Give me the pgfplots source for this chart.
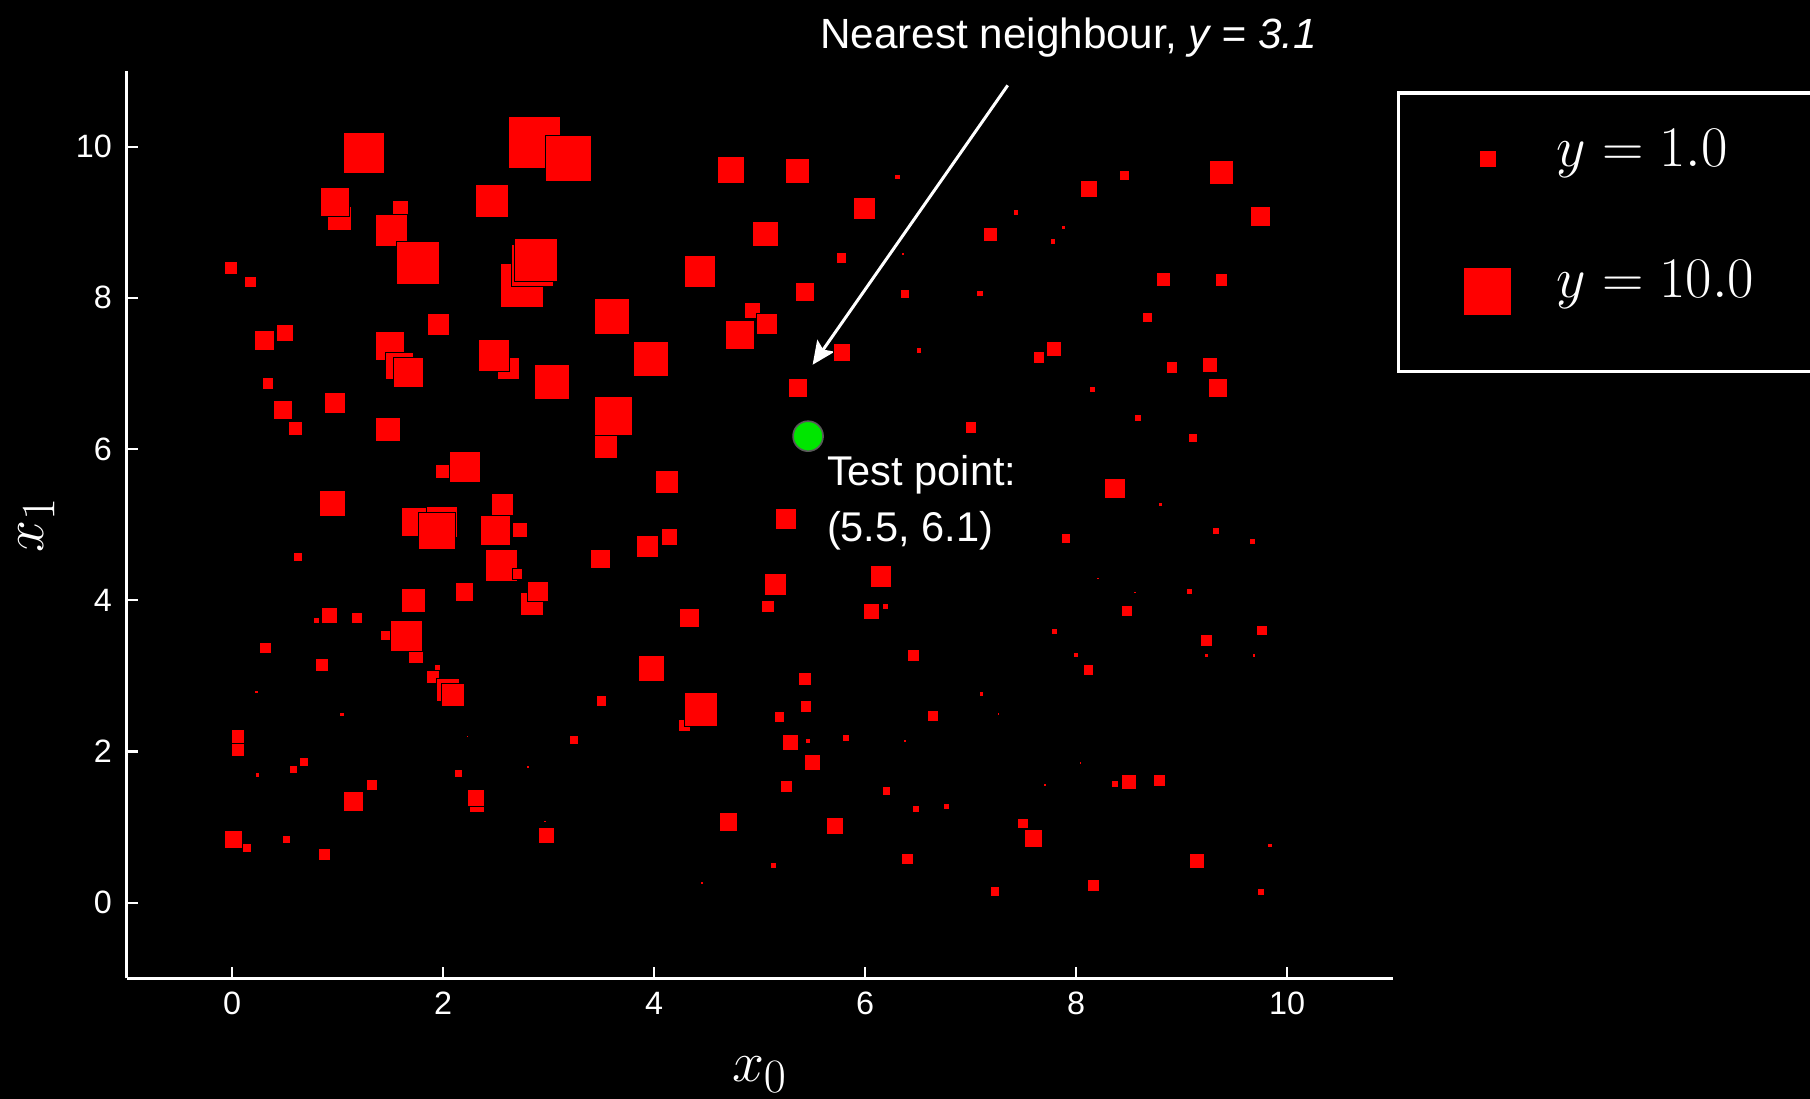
\documentclass[border=0pt]{standalone}
\usepackage[no-math]{fontspec}
\setmainfont{Liberation Sans}
\usepackage{pgfplots}
\pgfplotsset{compat=1.18}
\usepackage{pgfplotstable}
\usetikzlibrary{arrows.meta,backgrounds}
\definecolor{testgreen}{RGB}{0,230,0}

\pgfplotstableread{
x y s
-0.01 8.40 11
0.175 8.21 10
0.306 7.44 17
0.503 7.54 15
0.339 6.87 10
0.481 6.52 17
0.602 6.27 12
0.974 6.61 18
1.018 9.05 21
0.974 9.27 25
1.247 9.92 36
1.597 9.18 14
1.510 8.89 28
1.761 8.46 37
1.499 7.36 25
1.586 7.10 24
1.674 7.02 26
1.958 7.65 19
1.477 6.26 21
2.462 9.28 29
2.867 10.06 45
3.184 9.85 40
2.746 8.17 38
2.845 8.43 37
2.877 8.50 37
2.615 7.07 19
2.484 7.24 27
3.031 6.89 30
2.210 5.77 27
1.991 5.71 12
0.952 5.28 22
2.560 5.27 19
1.740 5.04 25
1.991 5.04 27
1.937 4.92 32
2.495 4.92 26
2.724 4.93 13
0.624 4.58 8
2.549 4.46 28
2.702 4.35 9
2.845 3.95 20
2.899 4.12 18
1.718 4.00 20
2.199 4.11 16
0.919 3.80 14
0.799 3.74 5
1.182 3.77 10
1.455 3.54 9
1.740 3.27 13
1.652 3.53 27
0.317 3.37 10
0.853 3.15 11
1.947 3.11 5
1.904 2.99 11
2.046 2.82 20
2.090 2.75 20
0.230 2.79 3
1.039 2.49 4
2.232 2.20 2
0.055 2.20 12
0.055 2.02 11
0.241 1.69 4
0.580 1.76 7
0.678 1.86 8
1.324 1.56 9
1.149 1.34 18
2.144 1.71 7
2.319 1.30 13
2.309 1.39 15
2.801 1.80 3
2.965 1.08 2
2.976 0.89 14
0.011 0.84 16
0.142 0.73 8
0.514 0.84 7
0.875 0.64 10
4.726 9.69 23
5.361 9.68 21
6.302 9.60 5
5.996 9.19 19
5.055 8.85 22
5.777 8.53 9
6.357 8.58 3
4.431 8.35 27
5.427 8.08 16
6.379 8.05 8
7.090 8.06 6
3.600 7.76 31
4.934 7.83 14
5.066 7.66 18
4.814 7.51 25
5.777 7.28 15
6.510 7.31 5
3.972 7.19 30
5.361 6.81 17
3.545 6.03 20
3.611 6.44 33
7.002 6.29 10
4.125 5.57 20
5.252 5.08 18
3.490 4.55 17
3.939 4.72 19
4.147 4.84 14
4.333 3.77 17
5.153 4.21 19
5.077 3.92 11
6.149 4.32 19
6.061 3.85 14
6.193 3.92 5
6.455 3.27 10
3.972 3.10 22
5.427 2.96 11
5.438 2.60 10
5.186 2.46 9
3.501 2.67 9
4.289 2.35 10
4.442 2.56 29
3.239 2.15 8
5.295 2.12 14
5.460 2.14 4
5.821 2.18 6
6.641 2.47 10
6.379 2.14 3
5.503 1.86 14
5.252 1.54 11
6.204 1.48 7
6.477 1.24 6
6.772 1.28 5
4.705 1.07 16
5.711 1.02 15
6.400 0.58 10
5.131 0.50 5
4.453 0.26 3
7.429 9.13 5
7.188 8.84 12
7.877 8.93 3
7.779 8.75 5
8.118 9.44 15
8.457 9.62 9
9.376 9.66 20
9.748 9.08 17
8.829 8.24 12
9.376 8.24 11
8.676 7.74 9
7.790 7.33 13
7.648 7.21 10
8.906 7.08 10
9.267 7.11 13
9.344 6.81 17
8.151 6.79 5
8.589 6.41 6
9.103 6.15 8
8.370 5.48 18
8.796 5.27 3
9.322 4.92 6
9.672 4.78 5
7.899 4.82 8
8.206 4.29 2
8.556 4.11 2
9.070 4.12 5
8.479 3.86 9
7.790 3.59 5
7.998 3.28 4
8.118 3.08 9
9.234 3.47 11
9.234 3.27 4
9.759 3.60 9
9.683 3.27 3
7.101 2.76 4
7.265 2.50 2
8.042 1.85 2
7.702 1.56 3
8.370 1.57 6
8.501 1.60 13
8.786 1.62 10
7.495 1.05 9
7.593 0.85 16
9.836 0.76 4
9.147 0.56 13
8.162 0.23 10
7.232 0.15 8
9.748 0.14 6
}\pointdata

\begin{document}
\begin{tikzpicture}
\begin{axis}[
  x=45.7pt, y=32.75pt,
  xmin=-1, xmax=11, ymin=-1, ymax=11,
  clip=false,
  axis lines=left,
  axis line style={-, white, line width=1.45pt},
  xtick={0,2,...,10}, ytick={0,2,...,10},
  tick align=inside,
  major tick length=5pt,
  tick style={white, line width=0.9pt},
  /pgf/number format/assume math mode=true,
  tick label style={font=\fontsize{14}{17}\selectfont, text=white},
  xticklabel style={yshift=-2.3pt},
  yticklabel style={xshift=-2.8pt},
  xlabel={$x_0$},
  ylabel={$x_1$},
  xlabel style={at={(axis description cs:0.5,-0.1139)}, anchor=base, font=\fontsize{30}{36}\selectfont, text=white},
  ylabel style={at={(axis description cs:-0.0657,0.5)}, anchor=base, rotate=0, font=\fontsize{30}{36}\selectfont, text=white},
  legend image code/.code={\draw[#1] plot coordinates {(0pt,3.25pt)};},
  legend cell align=left,
  legend style={at={(axis cs:11.04,10.73)}, anchor=north west,
    draw=white, line width=1.5pt, fill=black, text=white,
    font=\fontsize{33}{39}\selectfont,
    inner xsep=28.5pt, inner ysep=10.4pt,
    row sep=14.3pt, /tikz/column sep=20pt,
    nodes={inner sep=0pt, text height=21.25pt, text depth=21.5pt}},
]
\coordinate (bbsw) at (axis cs:-2.199,-2.595);
\coordinate (bbne) at (axis cs:14.956,11.939);

\addplot[forget plot, only marks, mark=square*, scatter,
  scatter/use mapped color={draw=black, fill=red},
  visualization depends on={\thisrow{s}/4 \as \msz},
  scatter/@pre marker code/.append style={/tikz/mark size=\msz},
  mark options={line width=0.25pt}]
  table[x=x, y=y] {\pointdata};

\addplot[forget plot, only marks, mark=*, mark size=6.5pt,
  mark options={fill=testgreen, draw=black!65, line width=0.7pt}]
  coordinates {(5.46,6.17)};

\addlegendimage{only marks, mark=square*, red, mark size=3.25pt, line width=0.1pt}
\addlegendentry{$y=1.0$}
\addlegendimage{only marks, mark=square*, red, mark size=10pt, line width=0.1pt}
\addlegendentry{$y=10.0$}

\draw[white, line width=1.3pt, -{Stealth[length=10pt, width=9pt, inset=2pt]}]
  (axis cs:7.352,10.81) -- (axis cs:5.503,7.115);
\node[anchor=base west, inner sep=0pt, text=white, font=\fontsize{18.3}{22}\selectfont]
  at (axis cs:5.569,11.30) {Nearest neighbour, \textit{y = 3.1}};
\node[anchor=base west, inner sep=0pt, text=white, font=\fontsize{18}{22}\selectfont]
  at (axis cs:5.635,5.524) {Test point:};
\node[anchor=base west, inner sep=0pt, text=white, font=\fontsize{18}{22}\selectfont]
  at (axis cs:5.635,4.78) {(5.5, 6.1)};
\end{axis}
\begin{scope}[on background layer]
\fill[black] (bbsw) rectangle (bbne);
\end{scope}
\pgfresetboundingbox
\path[use as bounding box] (bbsw) rectangle (bbne);
\end{tikzpicture}
\end{document}
